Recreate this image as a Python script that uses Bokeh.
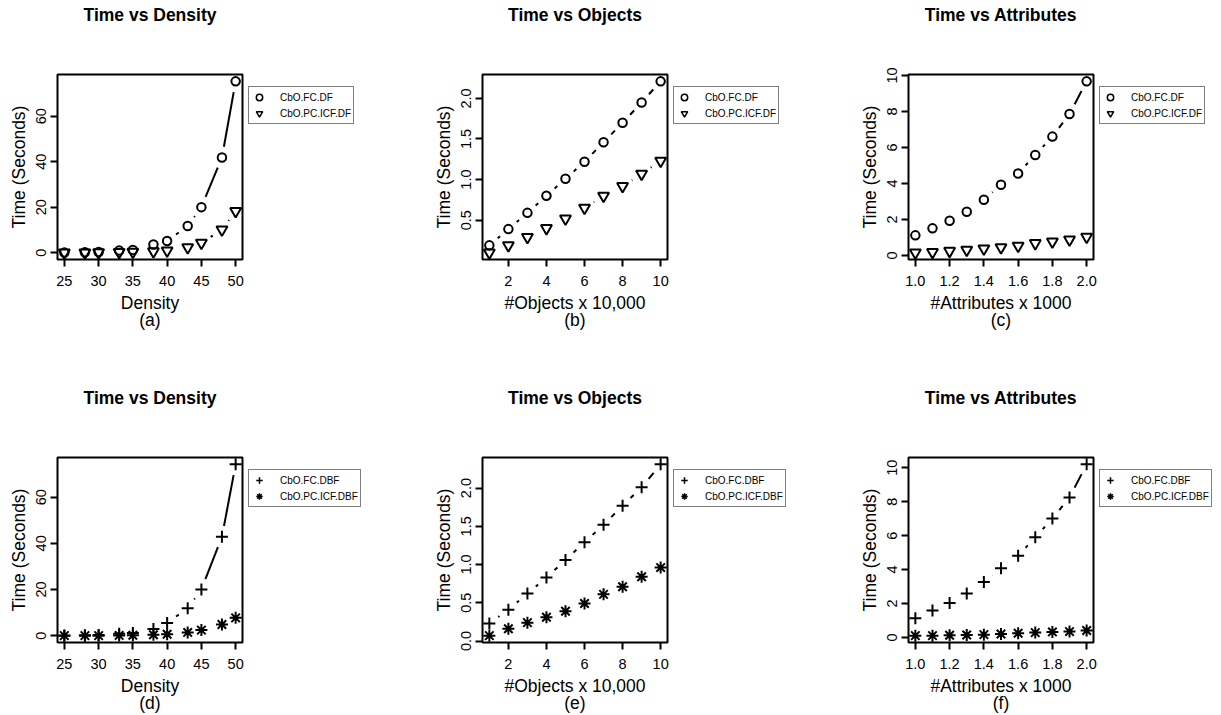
from math import hypot

from bokeh.embed import file_html
from bokeh.layouts import column, row
from bokeh.models import (ColumnDataSource, FixedTicker, Legend, LegendItem,
                          LinearAxis, NumeralTickFormatter, Range1d)
from bokeh.plotting import figure
from bokeh.resources import INLINE

# ---------------------------------------------------------------- data
density = [25, 28, 30, 33, 35, 38, 40, 43, 45, 48, 50]
objects = [1, 2, 3, 4, 5, 6, 7, 8, 9, 10]
attributes = [1.0, 1.1, 1.2, 1.3, 1.4, 1.5, 1.6, 1.7, 1.8, 1.9, 2.0]

fc_df_density = [0.1, 0.2, 0.3, 0.9, 1.2, 3.6, 5.1, 11.7, 20.0, 41.8, 75.3]
pc_icf_df_density = [0.0, 0.0, 0.1, 0.2, 0.3, 0.5, 0.9, 2.3, 4.3, 10.1, 18.2]

fc_df_objects = [0.19, 0.39, 0.59, 0.80, 1.01, 1.22, 1.46, 1.70, 1.95, 2.21]
pc_icf_df_objects = [0.10, 0.19, 0.29, 0.40, 0.52, 0.65, 0.80, 0.92, 1.07, 1.23]

fc_df_attributes = [1.11, 1.50, 1.92, 2.42, 3.09, 3.92, 4.55, 5.58, 6.60, 7.86, 9.67]
pc_icf_df_attributes = [0.15, 0.18, 0.24, 0.30, 0.37, 0.44, 0.52, 0.67, 0.76, 0.87, 1.02]

fc_dbf_density = [0.1, 0.2, 0.3, 0.8, 1.2, 2.9, 5.5, 11.9, 20.0, 42.8, 74.2]
pc_icf_dbf_density = [0.0, 0.0, 0.0, 0.1, 0.2, 0.4, 0.6, 1.4, 2.4, 4.8, 7.7]

fc_dbf_objects = [0.23, 0.41, 0.62, 0.83, 1.06, 1.29, 1.52, 1.77, 2.01, 2.31]
pc_icf_dbf_objects = [0.07, 0.16, 0.24, 0.31, 0.39, 0.49, 0.61, 0.71, 0.84, 0.96]

fc_dbf_attributes = [1.13, 1.59, 2.02, 2.58, 3.26, 4.08, 4.81, 5.90, 7.00, 8.25, 10.2]
pc_icf_dbf_attributes = [0.10, 0.10, 0.12, 0.14, 0.16, 0.20, 0.24, 0.28, 0.32, 0.34, 0.40]

density_ticks = [25, 30, 35, 40, 45, 50]
objects_ticks = [2, 4, 6, 8, 10]
attributes_ticks = [1.0, 1.2, 1.4, 1.6, 1.8, 2.0]
density_time_ticks = [0, 20, 40, 60]
objects_time_ticks_top = [0.5, 1.0, 1.5, 2.0]
objects_time_ticks_bottom = [0.0, 0.5, 1.0, 1.5, 2.0]
attributes_time_ticks = [0, 2, 4, 6, 8, 10]

# ---------------------------------------------------------------- style
FONT = "Liberation Sans"
FRAME = 185          # square plotting region, px
LEFT, TOP = 57, 74   # borders around the plotting region
RIGHT = 4            # border right of the plotting region, before the key
KEY_DROP = 14        # key box starts this far below the plotting region's top
GAP_PX = 11          # gap left around each point by the connecting lines
LW = 2
KEY_LW = 1.5
MARKERS = {
    "circle": dict(marker="circle", size=8.5),
    "inverted_triangle": dict(marker="inverted_triangle", size=11),
    "cross": dict(marker="cross", size=12),
    "asterisk": dict(marker="asterisk", size=12),
}
LEG_ROW = 16
LEG_PAD = 2


def padded_limits(*series):
    vals = [v for s in series for v in s]
    lo, hi = min(vals), max(vals)
    pad = 0.04 * (hi - lo)
    return lo - pad, hi + pad


def broken_segments(xs, ys, xr, yr):
    """Line pieces between consecutive points, cut back GAP_PX around each point."""
    kx = FRAME / (xr[1] - xr[0])
    ky = FRAME / (yr[1] - yr[0])
    out = dict(x0=[], y0=[], x1=[], y1=[])
    for i in range(len(xs) - 1):
        dx = xs[i + 1] - xs[i]
        dy = ys[i + 1] - ys[i]
        f = GAP_PX / hypot(dx * kx, dy * ky)
        if f < 0.5:
            out["x0"].append(xs[i] + f * dx)
            out["y0"].append(ys[i] + f * dy)
            out["x1"].append(xs[i + 1] - f * dx)
            out["y1"].append(ys[i + 1] - f * dy)
    return out


def blank_axis(label, standoff, bold=False):
    ax = LinearAxis(ticker=FixedTicker(ticks=[]), axis_label=label)
    ax.axis_line_color = None
    ax.major_tick_line_color = None
    ax.minor_tick_line_color = None
    ax.major_tick_out = 0
    ax.major_tick_in = 0
    ax.major_label_standoff = 0
    ax.axis_label_standoff = standoff
    ax.axis_label_text_font = FONT
    ax.axis_label_text_font_size = "17.5px"
    ax.axis_label_text_font_style = "bold" if bold else "normal"
    ax.axis_label_text_color = "black"
    return ax


def plot_area(title, sub, xlabel, x, s1, s2, marks, xticks, yticks,
              xfmt, yfmt, height):
    xr = padded_limits(x)
    yr = padded_limits(s1, s2)
    p = figure(frame_width=FRAME, frame_height=FRAME,
               min_border_left=LEFT, min_border_right=RIGHT,
               min_border_top=TOP, min_border_bottom=height - TOP - FRAME,
               x_range=Range1d(*xr), y_range=Range1d(*yr),
               x_axis_type=None, y_axis_type=None,
               output_backend="svg", toolbar_location=None)
    p.background_fill_color = "white"
    p.border_fill_color = "white"
    p.outline_line_color = "black"
    p.outline_line_width = 2

    xa = LinearAxis(ticker=FixedTicker(ticks=xticks), axis_label=xlabel)
    ya = LinearAxis(ticker=FixedTicker(ticks=yticks), axis_label="Time (Seconds)")
    if xfmt:
        xa.formatter = NumeralTickFormatter(format=xfmt)
    if yfmt:
        ya.formatter = NumeralTickFormatter(format=yfmt)
    for ax in (xa, ya):
        ax.axis_line_color = None
        ax.major_tick_in = 0
        ax.major_tick_out = 7
        ax.major_tick_line_width = 2
        ax.major_tick_line_color = "black"
        ax.minor_tick_line_color = None
        ax.major_label_text_font = FONT
        ax.major_label_text_font_size = "14.5px"
        ax.major_label_text_color = "black"
        ax.axis_label_text_font = FONT
        ax.axis_label_text_font_size = "17.5px"
        ax.axis_label_text_font_style = "normal"
        ax.axis_label_text_color = "black"
    xa.major_label_standoff = 9
    xa.axis_label_standoff = 4
    ya.major_label_standoff = 4
    ya.axis_label_standoff = 5
    ya.major_label_orientation = "vertical"
    p.add_layout(xa, "below")
    p.add_layout(blank_axis(sub, -6), "below")
    p.add_layout(ya, "left")
    p.add_layout(blank_axis(title, 50, bold=True), "above")

    # points joined by broken line pieces
    for ys, mk in zip((s1, s2), marks):
        seg = ColumnDataSource(broken_segments(x, ys, xr, yr))
        p.segment("x0", "y0", "x1", "y1", source=seg,
                  line_color="black", line_width=LW)
        p.scatter(x, ys, fill_color=None, line_color="black",
                  line_width=LW, **MARKERS[mk])
    return p


def key_area(x, s1, s2, names, marks, width, height):
    """Strip to the right of a plot that holds its boxed key.

    Its borders repeat the plot's, so both plotting regions line up in the row.
    """
    k = figure(frame_width=width, frame_height=FRAME,
               min_border_left=0, min_border_right=0,
               min_border_top=TOP, min_border_bottom=height - TOP - FRAME,
               x_range=Range1d(-2, -1), y_range=Range1d(-2, -1),
               x_axis_type=None, y_axis_type=None,
               output_backend="svg", toolbar_location=None)
    k.outline_line_color = None
    k.background_fill_color = "white"
    k.border_fill_color = "white"
    items = []
    for ys, name, mk in zip((s1, s2), names, marks):
        r = k.scatter(x, ys, fill_color=None, line_color="black",
                      line_width=KEY_LW, **MARKERS[mk])
        items.append(LegendItem(label=name, renderers=[r]))
    leg_h = 2 * LEG_ROW + 2 * LEG_PAD
    leg = Legend(items=items, location=(2, FRAME - KEY_DROP - leg_h))
    leg.border_line_color = "black"
    leg.border_line_width = 1.8
    leg.background_fill_color = "white"
    leg.background_fill_alpha = 1
    leg.margin = 0
    leg.padding = LEG_PAD
    leg.spacing = 0
    leg.glyph_width = 16
    leg.glyph_height = LEG_ROW
    leg.label_height = LEG_ROW
    leg.label_standoff = 13
    leg.label_text_font = FONT
    leg.label_text_font_size = "10px"
    leg.label_text_color = "black"
    leg.label_text_baseline = "middle"
    k.add_layout(leg)
    return k


def panel(title, sub, xlabel, x, s1, s2, names, marks, xticks, yticks,
          xfmt, yfmt, width, height):
    p = plot_area(title, sub, xlabel, x, s1, s2, marks, xticks, yticks,
                  xfmt, yfmt, height)
    k = key_area(x, s1, s2, names, marks, width - LEFT - FRAME - RIGHT, height)
    return [p, k]


W = [425, 426, 370]
H = [383, 332]
DF = ["CbO.FC.DF", "CbO.PC.ICF.DF"]
DBF = ["CbO.FC.DBF", "CbO.PC.ICF.DBF"]
OPEN = ["circle", "inverted_triangle"]
SOLID = ["cross", "asterisk"]

top = row(
    *panel("Time vs Density", "(a)", "Density", density,
           fc_df_density, pc_icf_df_density, DF, OPEN,
           density_ticks, density_time_ticks, None, None, W[0], H[0]),
    *panel("Time vs Objects", "(b)", "#Objects x 10,000", objects,
           fc_df_objects, pc_icf_df_objects, DF, OPEN,
           objects_ticks, objects_time_ticks_top, None, "0.0", W[1], H[0]),
    *panel("Time vs Attributes", "(c)", "#Attributes x 1000", attributes,
           fc_df_attributes, pc_icf_df_attributes, DF, OPEN,
           attributes_ticks, attributes_time_ticks, "0.0", None, W[2], H[0]),
)
bottom = row(
    *panel("Time vs Density", "(d)", "Density", density,
           fc_dbf_density, pc_icf_dbf_density, DBF, SOLID,
           density_ticks, density_time_ticks, None, None, W[0], H[1]),
    *panel("Time vs Objects", "(e)", "#Objects x 10,000", objects,
           fc_dbf_objects, pc_icf_dbf_objects, DBF, SOLID,
           objects_ticks, objects_time_ticks_bottom, None, "0.0", W[1], H[1]),
    *panel("Time vs Attributes", "(f)", "#Attributes x 1000", attributes,
           fc_dbf_attributes, pc_icf_dbf_attributes, DBF, SOLID,
           attributes_ticks, attributes_time_ticks, "0.0", None, W[2], H[1]),
)
layout = column(top, bottom)

with open("out.html", "w") as fh:
    fh.write(file_html(layout, INLINE))
